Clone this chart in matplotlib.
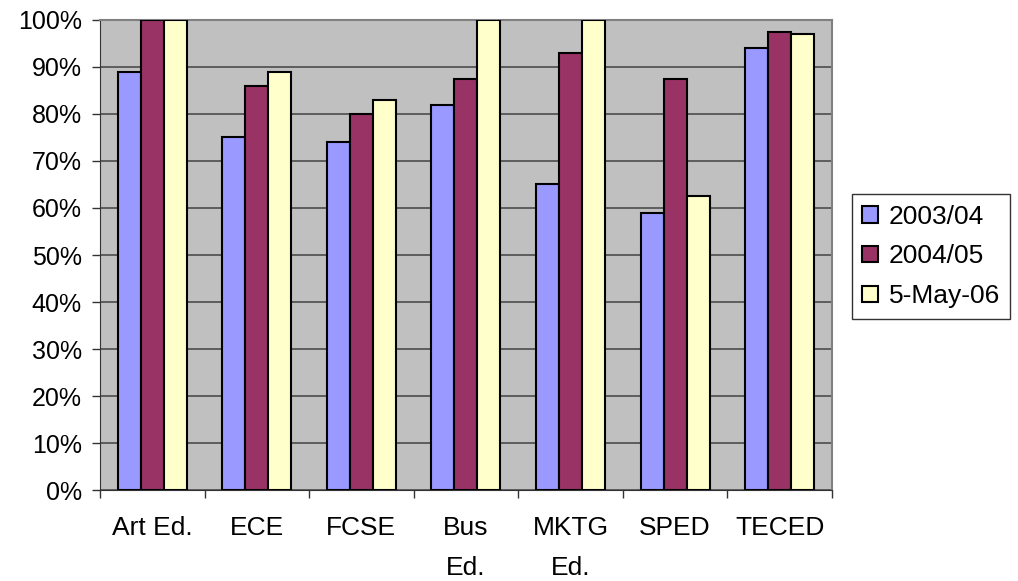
import numpy as np
import matplotlib.pyplot as plt

plt.rcParams['font.family'] = ['Liberation Sans', 'DejaVu Sans']

categories = ['Art Ed.', 'ECE', 'FCSE', 'Bus\nEd.', 'MKTG\nEd.', 'SPED', 'TECED']
series_names = ['2003/04', '2004/05', '5-May-06']
rate_0304 = [89, 75, 74, 82, 65, 59, 94]
rate_0405 = [100, 86, 80, 87.5, 93, 87.5, 97.5]
rate_may06 = [100, 89, 83, 100, 100, 62.5, 97]
colors = ['#9999FF', '#993366', '#FFFFCC']

fig = plt.figure(figsize=(10.18, 5.81), dpi=100)
ax = fig.add_axes([0.0982, 0.1566, 0.7190, 0.8090])
ax.set_facecolor('#C0C0C0')

x = np.arange(len(categories))
w = 0.22
for i, (vals, name) in enumerate(zip([rate_0304, rate_0405, rate_may06], series_names)):
    ax.bar(x + (i - 1) * w, vals, width=w, color=colors[i], edgecolor='black',
           linewidth=1.5, label=name, zorder=3)

ax.set_xlim(-0.5, len(categories) - 0.5)
ax.set_ylim(0, 100)
ax.set_yticks(np.arange(0, 101, 10))
ax.set_yticklabels([f'{v}%' for v in range(0, 101, 10)], fontsize=18)
ax.yaxis.grid(True, color='#555555', linewidth=1.3, zorder=1)
ax.set_axisbelow(True)

# category boundaries carry the ticks, names sit between them
ax.set_xticks(np.arange(len(categories) + 1) - 0.5)
ax.set_xticklabels([])
ax.set_xticks(x, minor=True)
ax.set_xticklabels(categories, minor=True, fontsize=19, linespacing=1.8, va='top')
ax.tick_params(axis='x', which='minor', length=0, pad=19)
ax.tick_params(axis='x', which='major', length=6, width=1, color='#333333')
ax.tick_params(axis='y', length=6, width=1, color='#333333', pad=7)

for side in ['top', 'right']:
    ax.spines[side].set_color('#808080')
    ax.spines[side].set_linewidth(1.5)
ax.spines['left'].set_color('#333333')
ax.spines['bottom'].set_color('#333333')

leg = ax.legend(loc='center left', bbox_to_anchor=(1.027, 0.497), fontsize=19,
                frameon=True, fancybox=False, edgecolor='black', handlelength=0.6,
                handleheight=0.6, handletextpad=0.4, labelspacing=0.6,
                borderpad=0.4, borderaxespad=0)
leg.get_frame().set_linewidth(1)

fig.savefig('out.png', dpi=100)
